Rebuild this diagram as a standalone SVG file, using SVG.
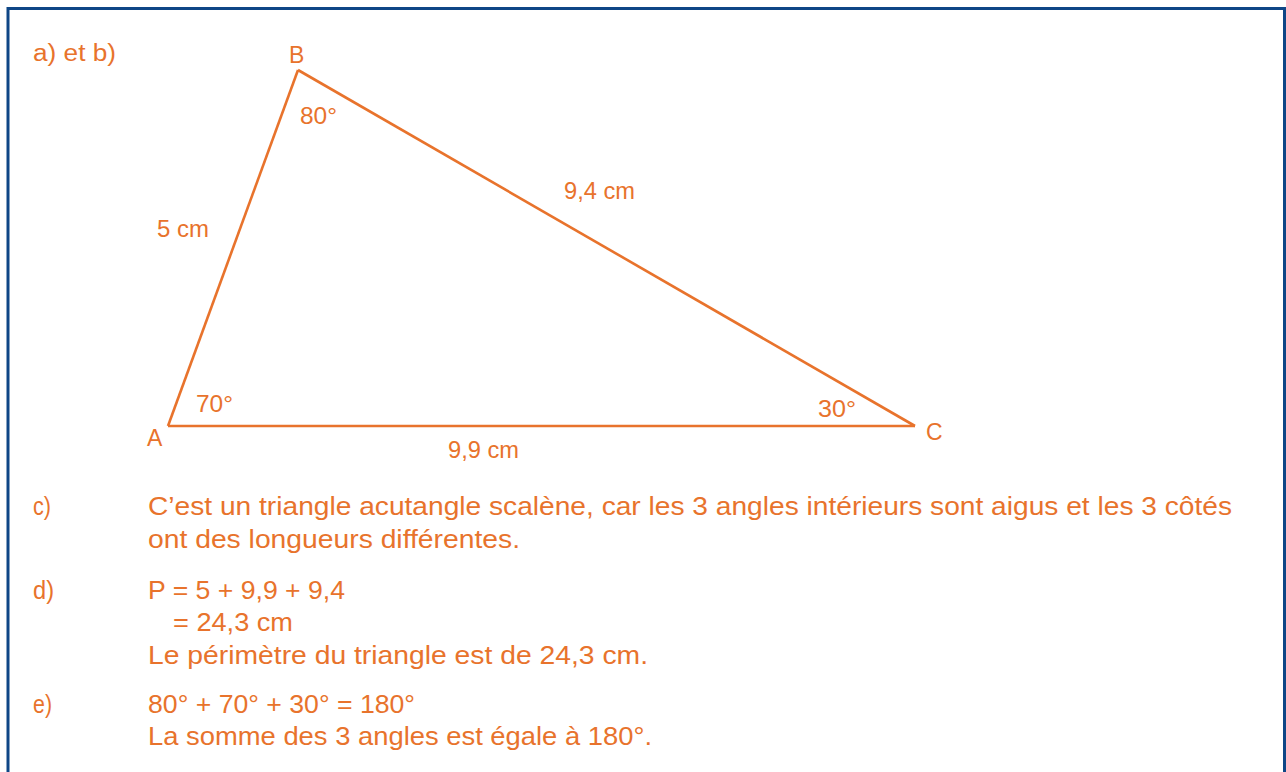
<svg xmlns="http://www.w3.org/2000/svg" width="1286" height="772" viewBox="0 0 1286 772">
<style>
.t{font-family:"Liberation Sans",Arial,sans-serif;fill:#E8732C;}
.l{font-size:23px;}
.b{font-size:26px;}
.edge{stroke:#E8732C;stroke-width:2.6;fill:none;stroke-linejoin:miter;}
</style>
<rect x="0" y="0" width="1286" height="772" fill="#ffffff"/>
<path d="M8 790 V8.5 H1284.5 V790" fill="none" stroke="#0E4686" stroke-width="3"/>
<text class="t l" x="33" y="61" textLength="83" lengthAdjust="spacingAndGlyphs">a) et b)</text>
<g id="connectors">
<line class="edge" x1="168" y1="426" x2="298" y2="70"/>
<line class="edge" x1="298" y1="70" x2="915" y2="426"/>
<line class="edge" x1="168" y1="426" x2="915" y2="426"/>
</g>
<g id="A"><text class="t l" x="147" y="446">A</text><text class="t l" x="196" y="412" textLength="37" lengthAdjust="spacingAndGlyphs">70°</text></g>
<g id="B"><text class="t l" x="289" y="63">B</text><text class="t l" x="300" y="124" textLength="37" lengthAdjust="spacingAndGlyphs">80°</text></g>
<g id="C"><text class="t l" x="926" y="440">C</text><text class="t l" x="818" y="417" textLength="38" lengthAdjust="spacingAndGlyphs">30°</text></g>
<g id="sides">
<text class="t l" x="157" y="237" textLength="52" lengthAdjust="spacingAndGlyphs">5 cm</text>
<text class="t l" x="564" y="199" textLength="71" lengthAdjust="spacingAndGlyphs">9,4 cm</text>
<text class="t l" x="448" y="458" textLength="71" lengthAdjust="spacingAndGlyphs">9,9 cm</text>
</g>
<g id="answers">
<text class="t b" x="33" y="515" textLength="18" lengthAdjust="spacingAndGlyphs">c)</text>
<text class="t b" x="148" y="515" textLength="1084" lengthAdjust="spacingAndGlyphs">C’est un triangle acutangle scalène, car les 3 angles intérieurs sont aigus et les 3 côtés</text>
<text class="t b" x="148" y="548" textLength="372" lengthAdjust="spacingAndGlyphs">ont des longueurs différentes.</text>
<text class="t b" x="33" y="599" textLength="21" lengthAdjust="spacingAndGlyphs">d)</text>
<text class="t b" x="148" y="599" textLength="197" lengthAdjust="spacingAndGlyphs">P = 5 + 9,9 + 9,4</text>
<text class="t b" x="173" y="631" textLength="120" lengthAdjust="spacingAndGlyphs">= 24,3 cm</text>
<text class="t b" x="148" y="664" textLength="500" lengthAdjust="spacingAndGlyphs">Le périmètre du triangle est de 24,3 cm.</text>
<text class="t b" x="33" y="713" textLength="19" lengthAdjust="spacingAndGlyphs">e)</text>
<text class="t b" x="148" y="713" textLength="267" lengthAdjust="spacingAndGlyphs">80° + 70° + 30° = 180°</text>
<text class="t b" x="148" y="745" textLength="504" lengthAdjust="spacingAndGlyphs">La somme des 3 angles est égale à 180°.</text>
</g>
</svg>
